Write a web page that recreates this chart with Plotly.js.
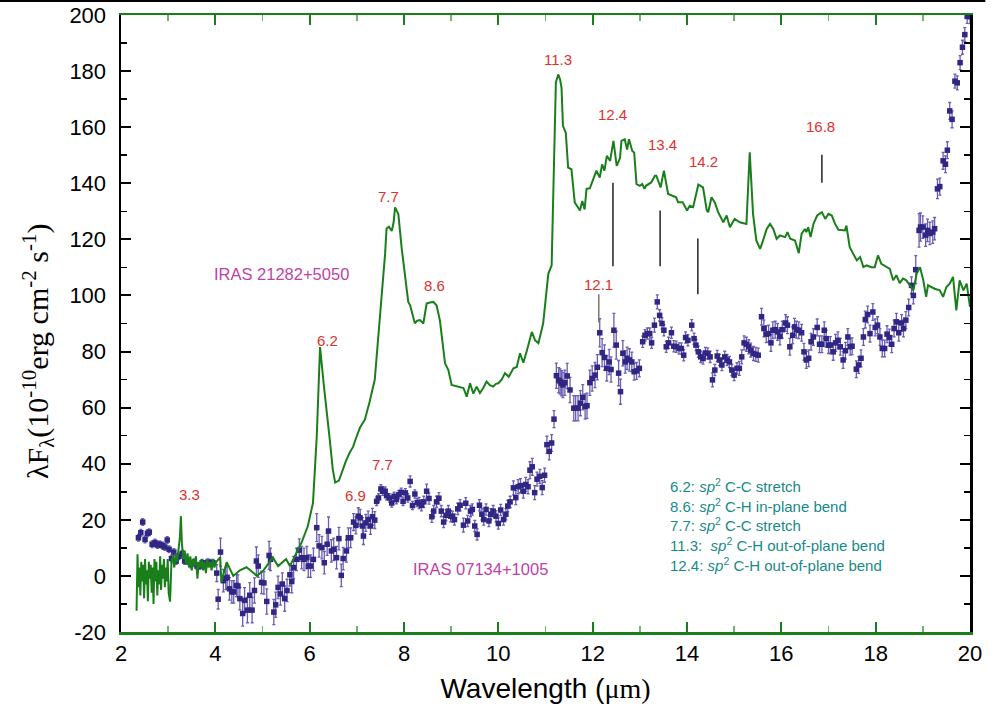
<!DOCTYPE html>
<html><head><meta charset="utf-8">
<script src="https://cdn.plot.ly/plotly-3.0.1.min.js"></script>
<style>html,body{margin:0;padding:0;background:#fff}#plot{width:998px;height:710px}</style>
</head><body><div id="plot"></div>
<script>
// IRAS 21282+5050 spectrum (green line)
const greenX = [2.33,2.35,2.37,2.39,2.41,2.43,2.45,2.47,2.49,2.51,2.53,2.55,2.57,2.59,2.61,2.63,2.65,2.67,2.69,2.71,2.73,2.75,2.77,2.79,2.81,2.83,2.85,2.87,2.89,2.91,2.93,2.95,2.97,2.99,3.01,3.04,3.07,3.10,3.13,3.16,3.19,3.22,3.25,3.27,3.29,3.32,3.35,3.38,3.41,3.44,3.47,3.50,3.53,3.56,3.59,3.62,3.65,3.68,3.71,3.74,3.77,3.80,3.83,3.86,3.89,3.92,3.95,3.98,4.02,4.10,4.13,4.24,4.38,4.52,4.66,4.78,4.88,5.01,5.12,5.22,5.33,5.43,5.50,5.58,5.65,5.72,5.83,5.96,6.07,6.15,6.22,6.30,6.37,6.43,6.49,6.54,6.62,6.70,6.77,6.85,6.92,6.98,7.07,7.17,7.27,7.38,7.45,7.49,7.55,7.60,7.63,7.68,7.74,7.78,7.81,7.85,7.88,7.95,8.02,8.09,8.13,8.20,8.23,8.28,8.34,8.41,8.48,8.55,8.62,8.69,8.76,8.87,8.94,9.01,9.10,9.19,9.26,9.33,9.40,9.47,9.54,9.61,9.68,9.75,9.82,9.89,9.95,10.0,10.07,10.14,10.22,10.32,10.39,10.46,10.53,10.60,10.67,10.71,10.78,10.85,10.95,11.02,11.06,11.13,11.17,11.20,11.22,11.27,11.31,11.34,11.37,11.43,11.48,11.55,11.62,11.73,11.78,11.83,11.87,11.94,12.01,12.08,12.15,12.20,12.25,12.30,12.37,12.44,12.51,12.58,12.61,12.68,12.73,12.77,12.84,12.88,12.93,13.0,13.05,13.10,13.13,13.24,13.32,13.35,13.44,13.51,13.60,13.70,13.77,13.81,13.91,14.0,14.06,14.13,14.24,14.34,14.42,14.45,14.52,14.59,14.66,14.77,14.84,14.91,15.01,15.12,15.26,15.33,15.40,15.47,15.55,15.60,15.69,15.76,15.83,15.90,15.97,16.08,16.13,16.19,16.29,16.37,16.43,16.50,16.53,16.57,16.62,16.68,16.76,16.86,16.93,17.0,17.07,17.14,17.21,17.35,17.38,17.45,17.53,17.60,17.67,17.74,17.81,17.91,17.98,18.05,18.12,18.23,18.30,18.37,18.44,18.51,18.58,18.65,18.73,18.80,18.87,18.94,19.01,19.07,19.11,19.18,19.25,19.36,19.43,19.50,19.57,19.64,19.71,19.78,19.86,19.93,20.0];
const greenY = [-12.4,7.7,-4,3,-7,5,-2,4,-8,6,-3,2,-9,5,-1,4,-6,3,-10,6,-2,5,-7,2,-3,7,-5,4,-1,6,-4,3,-2,6,-6,-9.2,5,7,3,8,5,9,14,21.3,12,6,9,4,8,3,7,2,6,4,7,-1,5,3,6,2,5,1,6,3,5,2,6,3,5,6.6,-2.2,4.9,0,2,3.1,1.5,0,1.7,4.5,6.6,3.5,4.9,6,3.5,6,8.4,12,17.7,26,49.6,81.6,68,58,48,38,33.3,34,38,41,44,46,49,53,55.7,62,70,84,92,101.8,115,123.9,124.5,123,126,131.4,130,129,117,107.8,97.7,96.5,92.4,90.1,91,91.2,90,97.1,97.5,97.7,96.5,91.2,75.8,73.4,68.1,67.8,67.5,67,63.9,68.7,65,67.5,65.2,67,69.3,68,67.5,68.5,68.7,70,72.3,71,74,74.5,79.4,76,80,84,87,84,83,90,102,107.8,110.7,141,169.3,176,178.8,177,174,160.5,158,145.6,145,133.2,130.3,133.7,130.7,138,138.2,141.5,144.5,142,146.7,144.5,149.8,148,155.1,146.2,149,155.1,155.7,152,155.7,151.5,151,139.7,139.1,139.7,138,139.1,140.3,142.7,142.7,138.5,144.5,136.2,135.6,135,133.2,133.2,130.3,132,131.5,139.5,138.5,130.3,129.7,135,133.2,129.7,126.1,128.5,124.3,127.3,126.1,125.5,151,129.1,119.6,116.6,119,123.7,125.5,123.7,120.2,121.4,120.8,122.6,120.2,119.6,115.1,122,123.7,122.6,124.3,120.8,125.5,128.5,129.7,127.3,129.1,128.5,125.5,123.4,123.2,124.9,117.2,114.9,112.5,113.7,110.1,110.7,110.1,110.1,114.3,111.3,110.1,109.5,105.4,107.2,104.4,106,105.4,103.6,101.8,107.8,110.1,105.4,99.5,103.6,103,102.4,101.8,99.5,103,104.2,106.6,94.7,105.4,101.8,104.2,95.9];

// IRAS 07134+1005 photometric points (purple squares with error bars)
const blueX = [2.37,2.42,2.46,2.51,2.56,2.60,2.66,2.72,2.77,2.82,2.88,2.93,2.98,3.02,3.07,3.12,3.17,3.23,3.30,3.35,3.42,3.48,3.55,3.61,3.67,3.72,3.78,3.84,3.89,3.95,
4.03,4.06,4.11,4.17,4.22,4.25,4.30,4.35,4.39,4.45,4.48,4.52,4.58,4.62,4.68,4.73,4.78,4.83,4.87,4.91,4.98,5.03,5.09,5.14,5.17,5.24,5.28,5.33,5.38,5.42,5.47,5.52,5.58,5.62,5.66,5.72,5.78,5.83,5.88,5.94,5.97,6.02,6.08,6.15,6.20,6.26,6.31,6.37,6.40,6.46,6.51,6.57,6.62,6.67,6.71,6.78,6.82,6.87,
6.93,6.98,7.03,7.07,7.12,7.14,7.19,7.24,7.29,7.33,7.38,
7.42,7.46,7.51,7.55,7.60,7.63,7.69,7.74,7.79,7.84,7.89,7.94,7.98,8.03,8.08,8.13,8.18,8.23,8.28,
8.32,8.37,8.42,8.48,8.53,8.59,8.63,8.69,8.74,8.79,8.84,8.89,8.94,8.99,9.03,9.07,9.14,9.19,9.26,9.31,9.35,9.41,9.45,9.50,9.55,9.60,9.65,9.69,9.74,9.80,9.84,9.89,9.95,10.0,10.05,10.11,10.16,10.20,10.25,
10.32,10.37,10.42,10.47,10.53,10.58,10.63,10.67,10.72,10.77,10.82,10.88,10.93,10.98,11.03,11.08,11.13,11.18,
11.23,11.28,11.31,11.34,11.37,11.41,11.46,11.52,11.60,11.64,11.69,11.74,11.79,11.84,11.88,11.94,11.99,12.05,12.10,12.15,12.20,12.25,12.30,12.35,12.39,12.45,12.50,12.55,12.59,12.64,12.69,12.73,12.78,12.83,12.88,12.93,12.99,
13.06,13.11,13.16,13.21,13.25,13.31,13.37,13.42,13.47,13.51,13.56,13.61,13.67,13.72,13.77,13.83,13.88,13.93,13.97,14.02,14.10,14.15,14.19,14.24,14.29,14.34,14.39,14.44,14.49,14.54,14.59,14.64,14.69,14.74,14.80,14.85,14.90,14.95,15.00,15.06,
15.11,15.16,15.21,15.26,15.31,15.35,15.41,15.46,15.51,15.58,15.63,15.68,15.73,15.78,15.82,15.87,15.92,15.97,16.02,16.09,16.13,16.18,16.24,16.28,16.32,16.37,16.43,16.48,16.53,16.58,16.63,16.68,16.76,16.81,16.86,16.91,16.95,17.00,17.04,17.10,17.15,17.20,17.25,17.31,17.36,17.41,17.46,17.50,17.59,17.64,17.69,17.74,17.78,17.83,17.88,17.94,17.99,18.04,18.09,18.14,18.19,18.24,18.29,18.34,18.39,18.44,18.49,18.55,18.59,18.64,
18.70,18.76,18.80,18.85,18.92,18.95,19.00,19.06,19.10,19.15,19.21,19.25,19.31,19.36,19.43,19.48,19.52,19.57,19.62,19.68,19.73,19.79,19.84,19.89,19.94,20.0];
const blueY = [13.6,15.4,19.2,13,15.2,15.6,11.3,11.9,11,11.3,10.8,10.3,12.8,9.5,6.2,8.5,5.3,7,8,5.3,5.3,4.1,4.9,3.5,3.5,4.7,4.1,4.9,4.7,4.7,
1.0,-8.3,8.5,-1.7,-0.9,-0.5,-4.6,-5.7,-5.7,-3.4,-3.6,-8.1,-13.4,-8.7,-12.2,-6.9,-12.2,-5.2,5.3,3.5,-2.3,-2.5,-9.1,7.3,5.9,-12.9,-10.3,-4.1,-6.4,-2.9,-8.1,-5.2,0.4,-2,3,5.9,9.2,6.5,5.9,6.5,3.5,3.5,5.9,17.2,10.7,10.1,4.7,11.3,16,8.9,9.5,6.5,13.3,0.2,6.2,8.9,13.6,13.6,
19.2,18,21.3,20.7,17.8,14.2,18.9,20.1,17.8,21.1,19.9,
26.6,27.8,31,30.2,30.2,28.6,27.8,26,28.4,27.2,29,29.8,26.6,29.6,27.8,33.7,25.1,29.2,26.2,
26,25.2,26.4,30.2,27.6,21.1,23.1,26.4,27.7,23.1,19.2,21.6,23.1,21.3,21.1,20.1,23.9,25.2,18.1,25.9,19.6,23.1,23.7,17.8,14.8,25.2,22,20.1,23.7,19.6,22,23.1,21.3,18.7,23.5,20.1,22,24.9,26.4,
31.4,27.9,31.8,32.2,30.2,32.6,31.8,37.7,38.9,29.7,34.5,35.5,31.5,35.9,46.8,44.4,47.4,55.9,
71.4,69.8,69.3,68.7,68.1,68.9,71.3,66.3,59.8,59.8,59.8,61.6,63.7,60.4,60.7,68.9,70.4,71.6,74.4,86.7,79.6,77.9,74,76.3,73.6,87.6,82.3,72.3,65.7,79.4,76.3,77.6,77,76.3,72.8,73.1,74,
83.5,85.8,86.4,86.4,83.1,89.4,97.7,92.9,90,87.6,81.7,83.1,86.7,81.9,81.7,81.1,81.1,78.7,85,84,89.4,84.6,82.3,79.9,78.1,77.5,79.5,79.3,78.1,69.9,73.4,78.4,77,75.2,78.1,77,76.3,73.4,71.6,74,
74,78.1,83.1,82.6,81.7,80.5,79.3,79,78.7,92.4,88.2,86.2,86.4,83.1,87.6,87.8,87,85.4,87.8,90.2,89.4,81.7,85.8,88.8,87.8,87.6,86.7,79.9,77,77.6,83.5,85.2,88.6,82.6,82.6,87.6,84.6,82.3,82.3,79.9,83.1,84,81.7,77,80.3,85.2,81.7,81.9,73.7,75.2,77.6,85.2,91.4,93.2,86.4,94.1,88.6,89.4,85.2,81.1,81.1,86.2,85,82.6,88.2,90.6,86.7,90.2,88.2,91.2,
95.7,103.6,100,109.2,123.2,124.4,124.4,121.5,123.2,122.1,122.6,123.8,138,138.8,148,146.8,151.8,165.8,162.8,176.4,175.8,183,188.5,193,199.5,199.4];
const blueErr = [1.2,1.2,1.2,1.2,1.2,1.2,1.2,1.2,1.2,1.2,1.2,1.2,1.2,1.2,1.2,1.2,1.2,1.2,1.2,1.2,1.2,1.2,1.2,1.2,1.2,1.2,1.2,1.2,1.2,1.2,
3,3.5,5,4,4,4,4,4,4,4,4,4,4.5,4.5,4.5,4.5,4.5,4.5,5,4,4,4,4.5,5,4,4.5,4.5,4,4,4,4.5,4,4,4,4,4,4,4,4,4,4,4,4,5,4,4,4,4,5,4,4,4,4,4,4,4,3.5,3.5,
3,3,3,3,3,3,3,3,3,3,3,
1.5,1.5,1.5,1.5,1.5,1.5,1.5,1.5,1.5,1.5,1.5,1.5,1.5,1.5,1.5,2,1.5,1.5,1.5,
2,2,2,2.5,2,2,2,2,2,2,2,2,2,2,2,2,2,2,2.5,2,2,2,2,2,2,2,2,2,2,2,2,2,2,2,2,2,2,2,2,
2.5,2.5,2.5,2.5,2.5,2.5,2.5,3,3,2.5,2.5,2.5,2.5,2.5,3,3,3,3,
4.5,4.5,4.5,4.5,4.5,4.5,4.5,4.5,4.5,4.5,4.5,4.5,4.5,4.5,4.5,4.5,4.5,4.5,4.5,5,5,4.5,4.5,4.5,4.5,6,5,4.5,4.5,4.5,4,4,4,3.5,3,3,3,
2,2,2,2,2,2.5,2.5,2,2,2,2,2,2,2,2,2,2,2,2,2,2,2,2,2,2,2,2,2,2,2.5,2,2,2,2,2,2,2,2,2,2,
2.5,2.5,2.5,2.5,2.5,2.5,2.5,2.5,2.5,3,3,3,3,3,3,3,3,3,3,3,3,3,3,3,3,3,3,3,3,3,3,3,3,3,3,3,3,3,3,3,3,3,3,3,3,3,3,3,3,3,3,3,3,3,3,3,3,3,3,3,3,3,3,3,3,3,3,3,3,3,
3,3,3,5,6,5,4,4,4,4,4,4,3.5,3,3,3,3,3,3,2.5,2.5,2.5,2.5,2.5,2.5,2.5];

// axis ticks
const xTickVals = [2,4,6,8,10,12,14,16,18,20];
const yTickVals = [-20,0,20,40,60,80,100,120,140,160,180,200];
const yTickText = ['-20','0','20','40','60','80','100','120','140','160','180','200'];

// feature labels
const redLabels = ['3.3','6.2','7.7','8.6','11.3','12.4','13.4','14.2','16.8','12.1','7.7','6.9'];
const redLabelX = [3.46,6.37,7.68,8.64,11.26,12.41,13.49,14.34,16.84,12.13,7.55,6.98];
const redLabelY = [29.0,84.0,135.2,103.6,184.3,164.7,154.0,147.7,160.4,103.9,39.7,28.7];
// vertical feature tick lines
const featX = [12.43,13.43,14.23,16.86,12.13];
const featY0 = [110.4,110.4,100.4,140.2,90.4];
const featY1 = [140.2,130.3,120.3,150.2,100.4];
const featColor = ['#222','#222','#222','#222','#777'];
// band assignments
const bandLines = [
  '6.2: <i>sp</i><sup>2</sup> C-C stretch',
  '8.6: <i>sp</i><sup>2</sup> C-H in-plane bend',
  '7.7: <i>sp</i><sup>2</sup> C-C stretch',
  '11.3:  <i>sp</i><sup>2</sup> C-H out-of-plane bend',
  '12.4: <i>sp</i><sup>2</sup> C-H out-of-plane bend'
];
const sourceNames = ['IRAS 21282+5050','IRAS 07134+1005'];
const sourceX = [5.41,9.63];
const sourceY = [107.5,2.4];

const GREEN = '#1a7f1a';
const traces = [
  {x: blueX, y: blueY, type: 'scatter', mode: 'markers',
   marker: {symbol: 'square', size: 5.5, color: '#2f2783'},
   error_y: {type: 'data', array: blueErr, visible: true, color: '#6a5db3', thickness: 1.3, width: 1.5},
   hoverinfo: 'skip', showlegend: false},
  {x: greenX, y: greenY, type: 'scatter', mode: 'lines',
   line: {color: GREEN, width: 2}, hoverinfo: 'skip', showlegend: false}
];

const annotations = [];
redLabels.forEach((t, i) => annotations.push({x: redLabelX[i], y: redLabelY[i], xref: 'x', yref: 'y', text: t, showarrow: false,
  font: {family: 'Liberation Sans, Arial', size: 15, color: '#e2302c'}}));
sourceNames.forEach((t, i) => annotations.push({x: sourceX[i], y: sourceY[i], xref: 'x', yref: 'y', text: t, showarrow: false,
  font: {family: 'Liberation Sans, Arial', size: 16.5, color: '#c13fa9'}}));
bandLines.forEach((t, i) => annotations.push({x: 0.644, y: 0.238 - i * 0.0322, xref: 'paper', yref: 'paper', xanchor: 'left', yanchor: 'middle',
  text: t, showarrow: false, font: {family: 'Liberation Sans, Arial', size: 15, color: '#168a88'}}));
// y-axis title, placed as in the reference (slightly below the plot centre)
annotations.push({x: -0.098, y: 0.455, xref: 'paper', yref: 'paper', xanchor: 'center', yanchor: 'middle', textangle: -90,
  showarrow: false, text: 'λF<sub>λ</sub>(10<sup>-10</sup>erg cm<sup>-2</sup> s<sup>-1</sup>)',
  font: {family: 'Liberation Serif, Times New Roman', size: 30, color: '#000'}});

const shapes = featX.map((x, i) => ({type: 'line', xref: 'x', yref: 'y', x0: x, x1: x, y0: featY0[i], y1: featY1[i],
  line: {color: featColor[i], width: 1.5}}));
shapes.push({type: 'line', xref: 'paper', yref: 'paper', x0: -0.15, x1: 1.018, y0: 1.0227, y1: 1.0227, line: {color: '#000', width: 2}});

const layout = {
  width: 998, height: 710,
  margin: {l: 121, r: 28, t: 15, b: 78},
  paper_bgcolor: '#fff', plot_bgcolor: '#fff',
  showlegend: false,
  xaxis: {
    range: [2, 20], tickmode: 'array', tickvals: xTickVals,
    ticks: 'inside', ticklen: 10, tickwidth: 2, tickcolor: GREEN,
    showline: true, linecolor: GREEN, linewidth: 2.5, mirror: 'ticks',
    showgrid: false, zeroline: false,
    minor: {dtick: 1, tick0: 2, ticks: 'inside', ticklen: 6, tickwidth: 1.5, tickcolor: '#6fb56f', showgrid: false},
    tickfont: {family: 'Liberation Sans Narrow, Arial Narrow, Liberation Sans', size: 22, color: '#000'},
    title: {text: 'Wavelength (<span style="font-family:Liberation Serif">μm)</span>', standoff: 14,
      font: {family: 'Liberation Sans Narrow, Arial Narrow, Liberation Sans', size: 28, color: '#000'}}
  },
  yaxis: {
    range: [-20, 200], tickmode: 'array', tickvals: yTickVals, ticktext: yTickText,
    ticks: 'inside', ticklen: 10, tickwidth: 2, tickcolor: '#000',
    showline: true, linecolor: '#000', linewidth: 2.5, mirror: 'ticks',
    showgrid: false, zeroline: false,
    minor: {dtick: 10, tick0: 0, ticks: 'inside', ticklen: 6, tickwidth: 1.5, tickcolor: '#000', showgrid: false},
    ticklabelstandoff: 8,
    tickfont: {family: 'Liberation Sans, Arial', size: 22, color: '#000'}
  },
  annotations: annotations,
  shapes: shapes
};

Plotly.newPlot('plot', traces, layout, {displayModeBar: false, staticPlot: true});
</script></body></html>
